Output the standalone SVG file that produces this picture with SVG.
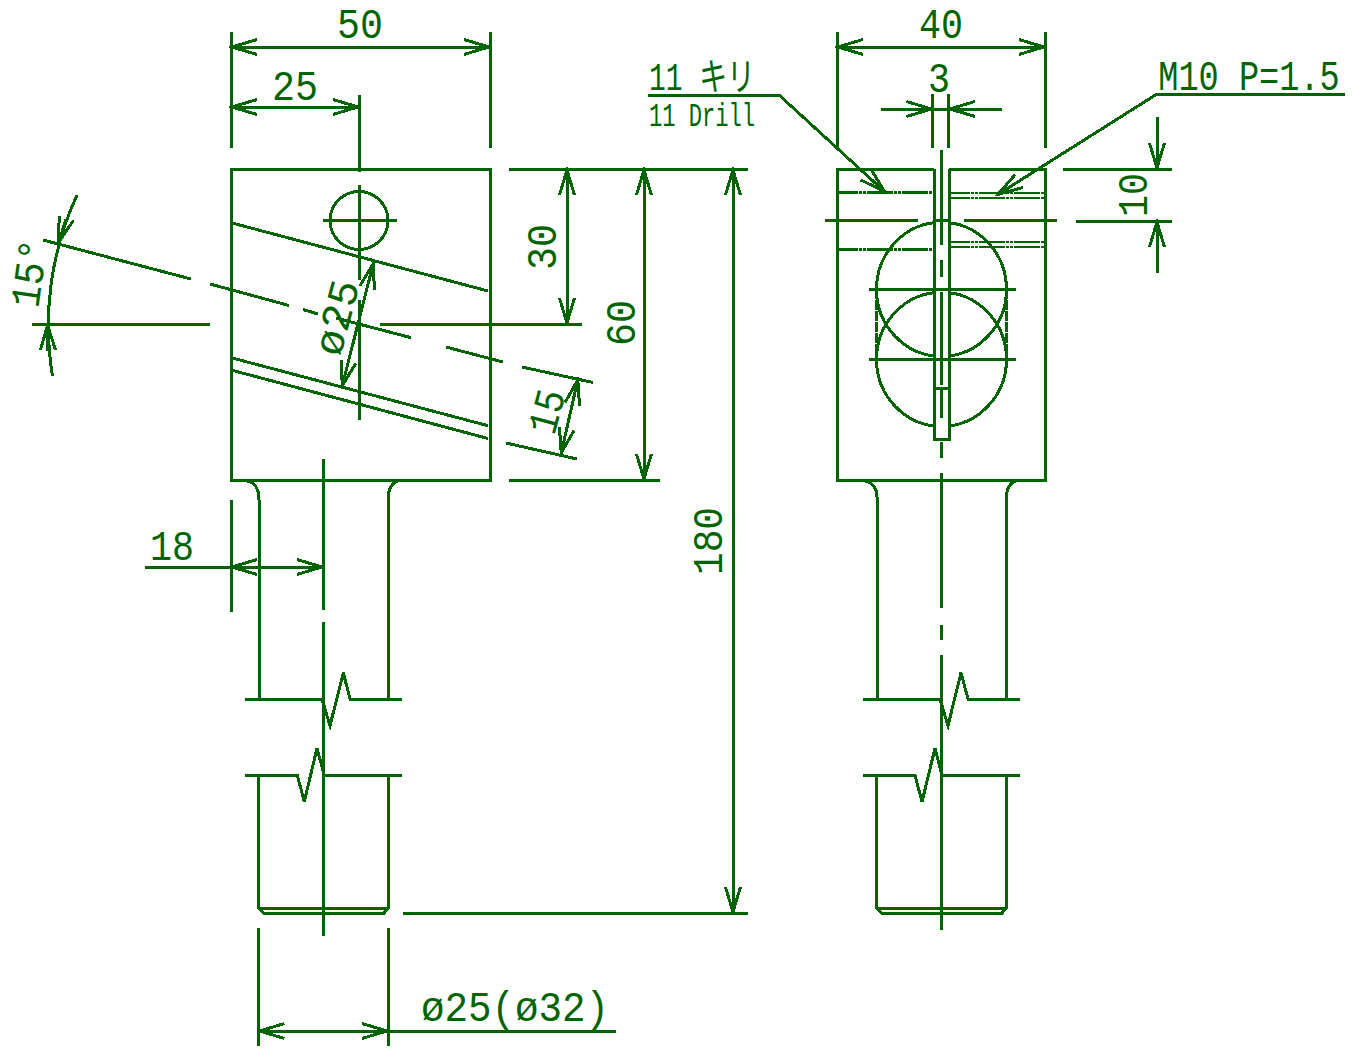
<svg xmlns="http://www.w3.org/2000/svg" width="1353" height="1062" viewBox="0 0 1353 1062">
<style>
.l{fill:none;stroke:#006400;stroke-width:3;shape-rendering:crispEdges}
.a{marker-end:url(#h)}
.b{marker-start:url(#s);marker-end:url(#h)}
.m{fill:none;stroke:#006400;stroke-width:3;shape-rendering:crispEdges}
.d{fill:none;stroke:#006400;stroke-width:2;stroke-dasharray:26 1 3 1 3 1;shape-rendering:crispEdges}
.e{fill:none;stroke:#006400;stroke-width:3;stroke-dasharray:26 1 3 1 3 1;shape-rendering:crispEdges}
text{font-family:"Liberation Mono","DejaVu Sans Mono",monospace;font-size:42px;fill:#006400;text-anchor:middle}
</style>
<defs>
<marker id="h" markerUnits="userSpaceOnUse" orient="auto" viewBox="-30 -10 32 20" markerWidth="32" markerHeight="20" refX="0" refY="0"><path class="m" d="M-26,-7.5L-1,0L-26,7.5"/></marker>
<marker id="s" markerUnits="userSpaceOnUse" orient="auto" viewBox="-2 -10 32 20" markerWidth="32" markerHeight="20" refX="0" refY="0"><path class="m" d="M26,-7.5L1,0L26,7.5"/></marker>
</defs>
<rect width="1353" height="1062" fill="#fff"/>
<g id="left-view" class="l">
<rect x="231" y="169" width="259" height="311"/>
<circle cx="359" cy="220.5" r="29"/>
<path d="M323,220H397M359,185V280M359,95V172M359,300V420"/>
<path d="M231,222.7L488,291M231,357.7L488,425.7M231,370L488,438.5"/>
<path d="M43,240L191,279M210,284L289,305.5M303,309.5L318,314M336,318L411,337.7M446,347L503,362M522,367L593,382.5"/>
<path d="M242,480C254,481 259,487 259,500V699M402,480C393,481 388,487 388,500V699"/>
<path d="M245,699H322L330,725.7L343.3,672.7L350,699H402"/>
<path d="M245,775.3H297.3L304.3,801.7L317,748.3L324.3,775.3H402"/>
<path d="M258.5,775V908L263.5,913H384L388,908V775M258.5,908H388"/>
<path d="M323,459V610M323,622V936"/>
</g>
<g id="right-view" class="l">
<path d="M934,169H837V480H1045V169H949"/>
<ellipse cx="941.5" cy="289.3" rx="65" ry="67"/>
<ellipse cx="941.5" cy="359.3" rx="65" ry="67"/>
<path d="M876.5,289V359M1006.5,289V359" stroke-dasharray="10 1"/>
<rect x="934" y="150" width="15" height="289.5" fill="#fff" stroke="none"/>
<path d="M934,169V439.5H949V169M934,388H949"/>
<path d="M825,220H918M964,220H1057M934,220H949M869,289.3H1016M869,359.3H1016"/>
<path d="M941.5,150V245M941.5,260V277M941.5,292V385M941.5,390V418M941.5,442V458M941.5,473V608M941.5,625V640M941.5,655V930"/>
<path d="M860,480C872,481 877,487 877,497V699M1020,480C1012,480 1006.5,487 1006.5,497V699"/>
<path d="M863,699H940L948,725.7L961,672.7L968,699H1020"/>
<path d="M863,775.3H915L922,801.7L935,748.3L942,775.3H1020"/>
<path d="M876.5,775V908L881.5,913H1002L1006.5,908V775M876.5,908H1006.5"/>
</g>
<g id="hidden-lines">
<path class="e" stroke-dashoffset="6" d="M838,192H933M838,249H933"/>
<path class="d" stroke-dashoffset="6" d="M950,193H1045M950,198H1045M950,242H1045M950,247H1045"/>
</g>
<g id="connectors" class="l">
<path d="M231,32V148M490,32V148M837,32V148M1045,32V148M932.5,94V148M948.5,94V148"/>
<path class="b" d="M231,47H490"/>
<path class="b" d="M231,107H359"/>
<path class="b" d="M837,47H1045"/>
<path d="M881,109H1002"/>
<path class="a" d="M900,109H932.5"/>
<path class="a" d="M981,109H949"/>
<path d="M509,169H748M380,324H582M509,480H660M403,913H748"/>
<path class="b" d="M567,169V324"/>
<path class="b" d="M644,169V480"/>
<path class="b" d="M733,169V913"/>
<path d="M32,324H210"/>
<path d="M77,195A311,311 0 0 0 52.5,376"/>
<path class="a" d="M66,219L58.5,243"/>
<path class="a" d="M48,351L47.5,324"/>
<path class="b" d="M373.5,262.7L342,386.7"/>
<path d="M506,443L577,459"/>
<path class="b" d="M578,379L561,454"/>
<path d="M145,567H231M231,500V612"/>
<path class="a" d="M260,567H231"/>
<path class="b" d="M231,567H323"/>
<path d="M258.5,928V1046M388,928V1046M388,1031H616"/>
<path class="b" d="M258.5,1031H388"/>
<path d="M1063,169H1172M1076,221H1172"/>
<path class="a" d="M1157,117V169"/>
<path class="a" d="M1157,273V221"/>
<path class="a" d="M648,95H779L885,192"/>
<path class="a" d="M1345,94H1157L997,195"/>
</g>
<g id="labels">
<text x="360" y="38" textLength="46" lengthAdjust="spacingAndGlyphs">50</text>
<text x="295" y="100" textLength="46" lengthAdjust="spacingAndGlyphs">25</text>
<text x="941" y="38" textLength="44" lengthAdjust="spacingAndGlyphs">40</text>
<text x="939" y="92" textLength="22" lengthAdjust="spacingAndGlyphs">3</text>
<text transform="translate(556,247) rotate(-90)" textLength="46" lengthAdjust="spacingAndGlyphs">30</text>
<text transform="translate(635,323) rotate(-90)" textLength="46" lengthAdjust="spacingAndGlyphs">60</text>
<text transform="translate(722,541) rotate(-90)" textLength="68" lengthAdjust="spacingAndGlyphs">180</text>
<text x="172" y="560" textLength="44" lengthAdjust="spacingAndGlyphs">18</text>
<text transform="translate(1147,195) rotate(-90)" textLength="44" lengthAdjust="spacingAndGlyphs">10</text>
<text transform="translate(43,275) rotate(-82)" textLength="68" lengthAdjust="spacingAndGlyphs">15°</text>
<text transform="translate(350,321) rotate(-75)" textLength="76" lengthAdjust="spacingAndGlyphs">ø25</text>
<text transform="translate(560,415) rotate(-75)" textLength="44" lengthAdjust="spacingAndGlyphs">15</text>
<text x="515" y="1021" textLength="188" lengthAdjust="spacingAndGlyphs">ø25(ø32)</text>
<text transform="translate(1249,90) scale(.8,1)">M10 P=1.5</text>
<text x="702" y="90" textLength="106" lengthAdjust="spacingAndGlyphs" style="font-family:'Liberation Mono','Noto Sans CJK JP',monospace;font-size:38px">11 キリ</text>
<text x="702" y="126" textLength="106" lengthAdjust="spacingAndGlyphs" style="font-size:34px">11 Drill</text>
</g>
</svg>
